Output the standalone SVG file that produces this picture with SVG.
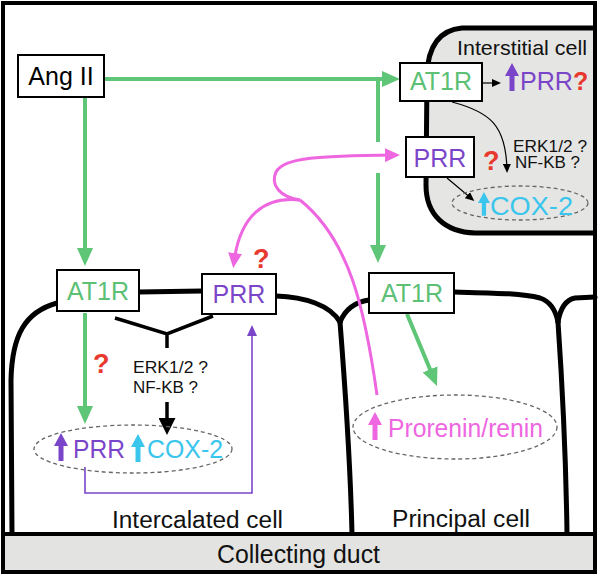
<svg xmlns="http://www.w3.org/2000/svg" width="600" height="578" viewBox="0 0 600 578">
<style>
text{font-family:"Liberation Sans",Arial,sans-serif}
.box{fill:#fff;stroke:#000;stroke-width:2}
.mem{fill:none;stroke:#000;stroke-width:5;stroke-linecap:round;stroke-linejoin:round}
.g{fill:none;stroke:#5ec676;stroke-width:4}
.m{fill:none;stroke:#ee66e0;stroke-width:3}
.k{fill:none;stroke:#000;stroke-width:1.2}
.p{fill:none;stroke:#7b45c9;stroke-width:1.6}
.dash{fill:none;stroke:#666;stroke-width:1.3;stroke-dasharray:4 3}
.big{font-size:25px}
.sm{font-size:16px;fill:#111}
.q{font-size:27px;font-weight:bold;fill:#e8392f}
.lab{font-size:23px;fill:#111}
.tg{fill:#5cc075}.tp{fill:#7b45c9}.tc{fill:#3ac5ec}.tm{fill:#ee66e0}
</style>
<defs>
<marker id="ag" markerUnits="userSpaceOnUse" markerWidth="18" markerHeight="16" refX="12" refY="8" orient="auto"><path d="M0,0 L18,8 L0,16 z" fill="#5ec676"/></marker>
<marker id="am" markerUnits="userSpaceOnUse" markerWidth="15" markerHeight="14" refX="9" refY="7" orient="auto"><path d="M0,0 L15,7 L0,14 z" fill="#ee66e0"/></marker>
<marker id="ak" markerUnits="userSpaceOnUse" markerWidth="9" markerHeight="8" refX="6" refY="4" orient="auto"><path d="M0,0 L9,4 L0,8 z" fill="#000"/></marker>
<marker id="akb" markerUnits="userSpaceOnUse" markerWidth="17" markerHeight="17" refX="10" refY="8.5" orient="auto"><path d="M0,0 L17,8.5 L0,17 z" fill="#000"/></marker>
<marker id="ap" markerUnits="userSpaceOnUse" markerWidth="11" markerHeight="10" refX="7" refY="5" orient="auto"><path d="M0,0 L11,5 L0,10 z" fill="#7b45c9"/></marker>
<path id="up" d="M7,0 L14,13 L9.5,13 L9.5,28 L4.5,28 L4.5,13 L0,13 z"/>
</defs>

<rect x="0" y="0" width="600" height="578" fill="#fff"/>

<g id="interstitial-cell">
<path d="M595,28 L462,28 C 440,30 428,45 427,75 L426,185 C 426,215 445,232 475,233 L595,233" fill="#e5e5e3" stroke="#000" stroke-width="5"/>
<text x="457" y="55" style="font-size:21px" fill="#111" textLength="130" lengthAdjust="spacingAndGlyphs">Interstitial cell</text>
</g>

<g id="membranes">
<path class="mem" d="M57,303 C 25,312 12,335 11,380 L12,534"/>
<path class="mem" d="M139,292 L202,291"/>
<path class="mem" d="M276,296 C 305,297 330,305 340,322"/>
<path class="mem" d="M340,322 C 345,310 355,302 369,300"/>
<path class="mem" d="M340,322 C 343,360 350,450 352,534"/>
<path class="mem" d="M454,292 C 490,293 520,293 540,298 C 552,302 556,312 558,322"/>
<path class="mem" d="M558,322 C 560,310 565,300 575,298 L595,297"/>
<path class="mem" d="M558,322 C 562,380 566,460 567,534"/>
</g>

<g id="collecting-duct">
<rect x="3" y="534" width="592" height="38" fill="#e3e3e1" stroke="#000" stroke-width="4"/>
<text x="217" y="563" class="big" fill="#111" textLength="163" lengthAdjust="spacingAndGlyphs">Collecting duct</text>
</g>

<rect id="frame" x="3" y="3" width="592" height="569" fill="none" stroke="#000" stroke-width="4"/>

<g id="connectors">
<path class="g" d="M104,79 L394,79" marker-end="url(#ag)"/>
<path class="g" d="M85,97 L85,260" marker-end="url(#ag)"/>
<path class="g" d="M378,79 L378,142"/>
<path class="g" d="M378,173 L378,257" marker-end="url(#ag)"/>
<path class="g" d="M85,313 L85,418" marker-end="url(#ag)"/>
<path class="g" d="M407,314 L434.7,380.5" marker-end="url(#ag)"/>
<path class="m" d="M377,395 C 365,310 350,240 300,200"/>
<path class="m" d="M300,200 C 265,196 240,215 234,262" marker-end="url(#am)"/>
<path class="m" d="M300,200 C 280,197 270,185 276,172 C 284,157 320,156 394,155" marker-end="url(#am)"/>
<path class="k" d="M482,83 L498,83" marker-end="url(#ak)"/>
<path class="k" d="M452,102 C 490,112 506,125 507,170" marker-end="url(#ak)"/>
<path class="k" d="M447,178 L472,199" marker-end="url(#ak)"/>
<path d="M115,318 L167,334 L213,316 M167,334 L167,348" fill="none" stroke="#000" stroke-width="3.5"/>
<path d="M167,402 L167,428" fill="none" stroke="#000" stroke-width="3.5" marker-end="url(#akb)"/>
<path class="p" d="M85,467 L85,493 L252,493 L252,329" marker-end="url(#ap)"/>
</g>

<g id="node-angii">
<rect class="box" x="18" y="55" width="86" height="42"/>
<text x="61" y="85" class="big" text-anchor="middle" fill="#000">Ang II</text>
</g>

<g id="node-at1r-interstitial">
<rect class="box" x="400" y="63" width="82" height="38"/>
<text x="441" y="90" class="big tg" text-anchor="middle">AT1R</text>
</g>

<g id="node-prr-up-interstitial">
<use href="#up" x="505" y="63" fill="#7b45c9" transform="translate(0,0)"/>
<text x="520" y="90" class="big tp" textLength="53" lengthAdjust="spacingAndGlyphs">PRR</text>
<text x="573" y="90" class="q" style="font-size:25px">?</text>
</g>

<g id="node-prr-interstitial">
<rect class="box" x="406" y="137" width="68" height="40"/>
<text x="440" y="167" class="big tp" text-anchor="middle">PRR</text>
<text x="483" y="170" class="q">?</text>
</g>

<g id="node-erk-interstitial">
<text x="513" y="152" class="sm" textLength="74" lengthAdjust="spacingAndGlyphs">ERK1/2 ?</text>
<text x="515" y="168" class="sm" textLength="65" lengthAdjust="spacingAndGlyphs">NF-KB ?</text>
</g>

<g id="node-cox-interstitial">
<ellipse class="dash" cx="520" cy="203" rx="68" ry="17"/>
<use href="#up" fill="#3ac5ec" transform="translate(478,192) scale(0.85)"/>
<text x="490" y="215" class="big tc" textLength="83" lengthAdjust="spacingAndGlyphs">COX-2</text>
</g>

<g id="node-at1r-intercalated">
<rect class="box" x="57" y="270" width="82" height="41"/>
<text x="98" y="300" class="big tg" text-anchor="middle">AT1R</text>
<text x="93" y="373" class="q">?</text>
</g>

<g id="node-prr-intercalated">
<rect class="box" x="202" y="274" width="74" height="40"/>
<text x="239" y="303" class="big tp" text-anchor="middle">PRR</text>
<text x="253" y="268" class="q">?</text>
</g>

<g id="node-erk-intercalated">
<text x="133" y="373" class="sm" textLength="75" lengthAdjust="spacingAndGlyphs">ERK1/2 ?</text>
<text x="133" y="393" class="sm" textLength="65" lengthAdjust="spacingAndGlyphs">NF-KB ?</text>
</g>

<g id="node-prr-cox-intercalated">
<ellipse class="dash" cx="133" cy="449" rx="99" ry="24"/>
<use href="#up" fill="#7b45c9" transform="translate(54,433)"/>
<text x="73" y="458" class="big tp" textLength="52" lengthAdjust="spacingAndGlyphs">PRR</text>
<use href="#up" fill="#3ac5ec" transform="translate(131,434)"/>
<text x="147" y="458" class="big tc" textLength="76" lengthAdjust="spacingAndGlyphs">COX-2</text>
</g>

<g id="node-at1r-principal">
<rect class="box" x="369" y="273" width="85" height="40"/>
<text x="412" y="302" class="big tg" text-anchor="middle">AT1R</text>
</g>

<g id="node-prorenin">
<ellipse class="dash" cx="455" cy="427" rx="102" ry="32"/>
<use href="#up" fill="#ee66e0" transform="translate(368,412)"/>
<text x="388" y="437" class="big tm" textLength="155" lengthAdjust="spacingAndGlyphs">Prorenin/renin</text>
</g>

<g id="labels">
<text x="112" y="528" class="lab" textLength="171" lengthAdjust="spacingAndGlyphs">Intercalated cell</text>
<text x="392" y="527" class="lab" textLength="138" lengthAdjust="spacingAndGlyphs">Principal cell</text>
</g>
</svg>
